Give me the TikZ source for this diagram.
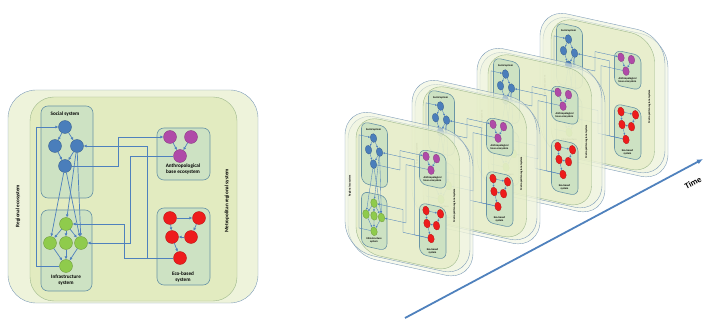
\documentclass[tikz,border=0pt]{standalone}
\usepackage{fontspec}
\setmainfont{Carlito}
\usetikzlibrary{arrows.meta}

\definecolor{edgeblue}{HTML}{4F81BD}
\definecolor{socblue}{HTML}{4A7EBB}
\definecolor{anthpurple}{HTML}{B04AA8}
\definecolor{infgreen}{HTML}{8FCB4C}
\definecolor{ecored}{HTML}{EE1C1C}
\definecolor{outerfill}{HTML}{EEF3DB}
\definecolor{outerline}{HTML}{7F9DB9}
\definecolor{innerfill}{HTML}{E2EBC0}
\definecolor{innerline}{HTML}{9DB88C}
\definecolor{boxfill}{HTML}{CDE2C3}
\definecolor{boxline}{HTML}{6A95A6}

\def\linkw{0.7pt}
\def\tiplen{3pt}
\def\labfont{\fontsize{5.2}{5.8}\selectfont}

% one regional model, local units, origin at its top left corner
\newcommand{\regionmodel}[1]{%
  % Regional ecosystem
  \draw[outerline, fill=outerfill, fill opacity=#1, rounded corners=28pt] (0,0) rectangle (250,213);
  % Metropolitan regional system
  \draw[innerline, fill=innerfill, fill opacity=#1, rounded corners=24pt] (22,7) rectangle (229,211);
  \node[sidelabel] (rlab) at (10,116) {Regional ecosystem};
  \node[sidelabel] (mlab) at (219,111) {Metropolitan regional system};

  % Subsystem boxes
  \draw[subbox] (33,16) rectangle (85,108);
  \draw[subbox] (149,38) rectangle (202,90);
  \draw[subbox] (33,120) rectangle (84,201);
  \draw[subbox] (149,118) rectangle (202,195);

  % Social system
  \node[dot=socblue] (s1) at (57,37) {};
  \node[dot=socblue] (s2) at (47,56) {};
  \node[dot=socblue] (s3) at (69,56) {};
  \node[dot=socblue] (s4) at (57,76) {};
  \node[boxlabel] (slab) at (57,24) {Social system};

  % Anthropological base ecosystem
  \node[dot=anthpurple] (p1) at (162,47) {};
  \node[dot=anthpurple] (p2) at (183,47) {};
  \node[dot=anthpurple] (p3) at (172,66) {};
  \node[boxlabel] (plab) at (175,79) {Anthropological\\base ecosystem};

  % Infrastructure system
  \node[dot=infgreen] (g1) at (58,134) {};
  \node[dot=infgreen] (g2) at (42,153) {};
  \node[dot=infgreen] (g3) at (58,153) {};
  \node[dot=infgreen] (g4) at (73,153) {};
  \node[dot=infgreen] (g5) at (58,176) {};
  \node[boxlabel] (glab) at (58,190) {Infrastructure\\system};

  % Eco-based system
  \node[dot=ecored] (r1) at (162,128) {};
  \node[dot=ecored] (r2) at (191,128) {};
  \node[dot=ecored] (r3) at (164,147) {};
  \node[dot=ecored] (r4) at (183,147) {};
  \node[dot=ecored] (r5) at (172,168) {};
  \node[boxlabel] (rlab2) at (175,187) {Eco-based\\system};

  % Links inside the boxes
  \draw[link] (s1) -- (s2);
  \draw[link] (s1) -- (s3);
  \draw[link] (s2) -- (s4);
  \draw[link] (s3) -- (s4);
  \draw[link] (p1) -- (p3);
  \draw[link] (p2) -- (p3);
  \draw[link] (g1) -- (g2);
  \draw[link] (g1) -- (g3);
  \draw[link] (g1) -- (g4);
  \draw[link] (g2) -- (g5);
  \draw[link] (g3) -- (g5);
  \draw[link] (g4) -- (g5);
  \draw[link] (r1) -- (r2);
  \draw[link] (r1) -- (r3);
  \draw[link] (r2) -- (r4);
  \draw[link] (r4) -- (r3);
  \draw[link] (r3) -- (r5);

  % Links between the systems
  \draw[link] (s4) -- (g2);
  \draw[link] (s4) -- (g4);
  \draw[link] (s3) -- (g1);
  \draw[link] (s3) -- (g4);
  \draw[link] (g5) -- (28,176) -- (28,37) -- (s1);
  \draw[link] (s4) -- (110,76) -- (110,47) -- (p1);
  \draw[link] (p3) -- (122,66) -- (122,153) -- (g4);
  \draw[link] (r5) -- (116,168) -- (116,134) -- (g1);
  \draw[link] (r5) -- (139,168) -- (139,56) -- (s3);
}

\begin{document}
\begin{tikzpicture}[x=1pt, y=-1pt,
    dot/.style={circle, minimum size=13pt, inner sep=0pt, fill=#1, draw=#1!75!black, line width=0.3pt},
    subbox/.style={draw=boxline, fill=boxfill, line width=0.6pt, rounded corners=7pt},
    link/.style={draw=edgeblue, line width=\linkw, -{Latex[length=\tiplen, width=\tiplen]}},
    boxlabel/.style={align=center, inner sep=0pt, font=\bfseries\labfont},
    sidelabel/.style={rotate=90, inner sep=0pt, font=\bfseries\labfont},
    timeaxis/.style={draw=edgeblue, line width=1.8pt, -{Latex[length=6pt, width=5pt]}},
    timelabel/.style={rotate=28, font=\bfseries\fontsize{8.5}{9}\selectfont}]
    \useasboundingbox (0,0) rectangle (704,323);

    % Flat model
    \begin{scope}[shift={(8,90)}]
        \regionmodel{1}
    \end{scope}

    % Models in time, back to front
    \foreach \px/\py in {540/8, 477/43, 412/75, 345/107} {
        \begin{scope}[cm={0.5,-0.11,0,0.67,(\px pt,-\py pt)}, transform shape,
                boxlabel/.append style={transform shape=false},
                sidelabel/.append style={transform shape=false}]
            \def\linkw{0.35pt}
            \def\tiplen{2pt}
            \def\labfont{\fontsize{2.7}{3.1}\selectfont}
            % panel thickness
            \draw[outerline, fill=outerfill, fill opacity=0.5, rounded corners=28pt] (6,5) rectangle (256,218);
            \regionmodel{0.6}
        \end{scope}
    }

    % Time axis
    \coordinate (tstart) at (405,318);
    \coordinate (tend) at (703,159);
    \draw[timeaxis] (tstart) -- (tend);
    \node[timelabel] (tlab) at (693,183) {Time};
\end{tikzpicture}
\end{document}
